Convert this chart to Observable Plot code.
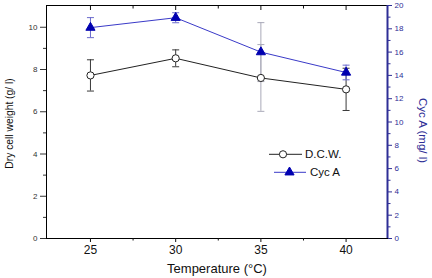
<!DOCTYPE html>
<html><head><meta charset="utf-8">
<script src="https://cdn.jsdelivr.net/npm/d3@7"></script>
<script src="https://cdn.jsdelivr.net/npm/@observablehq/plot@0.6"></script>
<style>body{margin:0;background:#fff} svg{display:block}</style>
</head><body><div id="chart"></div>
<script>
// ---- data ----
const temps = [25, 30, 35, 40];
const dcw = [7.72, 8.53, 7.6, 7.06];
const dcwErr = [0.74, 0.4, 1.58, 1.0];
const cycA = [18.1, 18.95, 16.0, 14.25];
const cycAErr = [0.86, 0.43, 2.53, 0.63];

const xMajorTicks = [25, 30, 35, 40];
const xMinorTicks = [27.5, 32.5, 37.5];
const leftMajorTicks = [0, 2, 4, 6, 8, 10];
const leftMinorTicks = [1, 3, 5, 7, 9];
const rightMajorTicks = [0, 2, 4, 6, 8, 10, 12, 14, 16, 18, 20];
const rightMinorTicks = [1, 3, 5, 7, 9, 11, 13, 15, 17, 19];
const xDomain = [22.42, 42.43];
const leftDomain = [0, 11.03];
const rightDomain = [0, 20];

const xTitle = "Temperature (°C)";
const leftTitle = "Dry cell weight (g/ l)";
const rightTitle = "Cyc A (mg/ l)";
const seriesNames = ["D.C.W.", "Cyc A"];

// ---- derived ----
const k = leftDomain[1] / rightDomain[1];
const dcwRows = temps.map((t, i) => ({t, v: dcw[i], lo: dcw[i] - dcwErr[i], hi: dcw[i] + dcwErr[i], s: "d"}));
const cycRows = temps.map((t, i) => ({t, v: cycA[i] * k, lo: (cycA[i] - cycAErr[i]) * k, hi: (cycA[i] + cycAErr[i]) * k, s: "c"}));
const capRows = [...dcwRows, ...cycRows].flatMap(d => [{t: d.t, y: d.lo, s: d.s}, {t: d.t, y: d.hi, s: d.s}]);

const BLUE_AX = "#2e2e96";
const errColor = d => d.t === 35 ? "#a9a9b8" : (d.s === "d" ? "#3a3a3a" : "#6a6acc");
const capSymbol = {draw(ctx) { ctx.moveTo(-3.5, 0); ctx.lineTo(3.5, 0); }};
const FONT = "'Liberation Sans', Arial, sans-serif";

const plot = Plot.plot({
  width: 432, height: 278,
  marginLeft: 46, marginRight: 45, marginTop: 5, marginBottom: 40,
  style: {fontFamily: FONT, background: "white", overflow: "visible"},
  x: {domain: xDomain},
  y: {domain: leftDomain},
  marks: [
    Plot.frame({stroke: "#000"}),
    Plot.ruleX([xDomain[1]], {stroke: BLUE_AX, strokeWidth: 2}),
    Plot.axisX(xMajorTicks, {anchor: "bottom", tickSize: 4, tickPadding: 3, fontSize: 12, color: "#111", label: null}),
    Plot.axisX(xMinorTicks, {anchor: "bottom", tickSize: 2.5, tickFormat: () => "", color: "#111", label: null}),
    Plot.axisX(xMajorTicks, {anchor: "top", tickSize: -4, tickFormat: () => "", color: "#111", label: null}),
    Plot.axisX(xMinorTicks, {anchor: "top", tickSize: -2.5, tickFormat: () => "", color: "#111", label: null}),
    Plot.axisY(leftMajorTicks, {anchor: "left", tickSize: 6, tickPadding: 3, fontSize: 8, color: "#333", label: null}),
    Plot.axisY(leftMinorTicks, {anchor: "left", tickSize: 3, tickFormat: () => "", color: "#333", label: null}),
    Plot.axisY(rightMajorTicks.map(v => v * k), {anchor: "right", tickSize: 4, tickPadding: 3, fontSize: 8, color: BLUE_AX, tickFormat: d => String(Math.round(d / k)), label: null}),
    Plot.axisY(rightMinorTicks.map(v => v * k), {anchor: "right", tickSize: 2.5, tickFormat: () => "", color: BLUE_AX, label: null}),
    Plot.ruleX(dcwRows, {x: "t", y1: "lo", y2: "hi", stroke: errColor, strokeWidth: 1}),
    Plot.ruleX(cycRows, {x: "t", y1: "lo", y2: "hi", stroke: errColor, strokeWidth: 1}),
    Plot.dot(capRows, {x: "t", y: "y", symbol: capSymbol, stroke: errColor, strokeWidth: 1, fill: "none"}),
    Plot.line(dcwRows, {x: "t", y: "v", stroke: "#222", strokeWidth: 1}),
    Plot.line(cycRows, {x: "t", y: "v", stroke: "#3a3ac8", strokeWidth: 1}),
    Plot.dot(dcwRows, {x: "t", y: "v", r: 3.6, fill: "white", stroke: "#222", strokeWidth: 1}),
    Plot.dot(cycRows, {x: "t", y: "v", symbol: "triangle", r: 3.4, fill: "#0000b0", stroke: "#0000b0", strokeWidth: 1}),
    Plot.text([xTitle], {frameAnchor: "bottom", textAnchor: "middle", dy: 34, fontSize: 13, fill: "#111"}),
    Plot.text([leftTitle], {frameAnchor: "left", textAnchor: "middle", rotate: -90, dx: -37, dy: 1.5, fontSize: 10.3, fill: "#111"}),
    Plot.text([rightTitle], {frameAnchor: "right", textAnchor: "middle", rotate: 90, dx: 35, dy: 8.5, fontSize: 11.5, fill: BLUE_AX})
  ]
});

const svg = d3.select(plot);
const lg = svg.append("g").attr("font-family", FONT).attr("font-size", 11.5).attr("text-anchor", "start");
const legendItems = [
  {name: seriesNames[0], y: 154.3, x1: 269, x2: 302, mx: 283, tx: 305, stroke: "#222"},
  {name: seriesNames[1], y: 172.3, x1: 274, x2: 306, mx: 289.5, tx: 310, stroke: "#3a3ac8"}
];
legendItems.forEach((it, i) => {
  lg.append("line").attr("x1", it.x1).attr("x2", it.x2).attr("y1", it.y).attr("y2", it.y).attr("stroke", it.stroke);
  if (i === 0) {
    lg.append("circle").attr("cx", it.mx).attr("cy", it.y).attr("r", 3.6).attr("fill", "white").attr("stroke", "#222");
  } else {
    lg.append("path").attr("transform", `translate(${it.mx},${it.y})`).attr("d", d3.symbol(d3.symbolTriangle, Math.PI * 3.4 * 3.4)()).attr("fill", "#0000b0").attr("stroke", "#0000b0");
  }
  lg.append("text").attr("x", it.tx).attr("y", it.y).attr("dy", "0.35em").attr("fill", "#111").text(it.name);
});

document.getElementById("chart").appendChild(plot);
</script>
</body></html>
